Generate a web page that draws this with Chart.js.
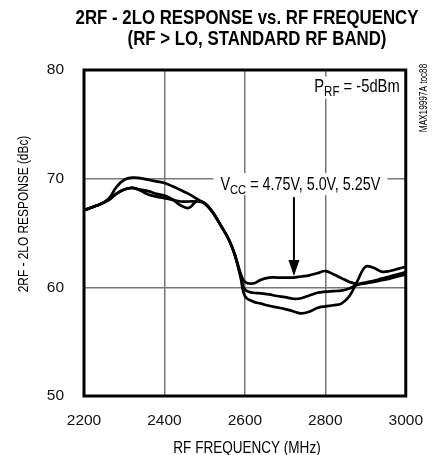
<!DOCTYPE html>
<html>
<head>
<meta charset="utf-8">
<script src="https://cdn.jsdelivr.net/npm/chart.js@4.4.1/dist/chart.umd.min.js"></script>
<style>
  html, body { margin: 0; padding: 0; background: #fff; }
  #wrap { width: 438px; height: 455px; position: relative; }
</style>
</head>
<body>
<div id="wrap"><canvas id="spurChart"></canvas></div>
<script>
// RF frequency sweep points (MHz)
const rfFreq = [2200, 2230, 2260, 2280, 2300, 2320, 2340, 2360, 2380, 2400,
  2420, 2440, 2460, 2480, 2500, 2520, 2540, 2560, 2575, 2590,
  2600, 2620, 2640, 2660, 2680, 2700, 2720, 2740, 2760, 2780,
  2800, 2820, 2840, 2860, 2880, 2900, 2920, 2940, 2960, 2980, 3000];

// 2RF - 2LO response (dBc), one curve per supply voltage
const resp475 = [67.1, 67.5, 68.1, 69.2, 69.9, 70.1, 70.05, 69.9, 69.75, 69.6,
  69.3, 68.95, 68.6, 68.15, 67.7, 66.9, 65.7, 64.4, 63.0, 61.2,
  60.5, 60.35, 60.7, 60.9, 60.9, 60.9, 60.9, 61.0, 61.1, 61.3,
  61.5, 61.2, 60.85, 60.5, 60.3, 60.35, 60.5, 60.65, 60.8, 61.0, 61.2];
const resp500 = [67.1, 67.5, 68.0, 68.6, 69.0, 69.15, 68.9, 68.55, 68.35, 68.2,
  68.05, 67.9, 67.9, 67.9, 67.75, 66.9, 65.7, 64.4, 63.0, 61.0,
  59.8, 59.5, 59.45, 59.35, 59.2, 59.1, 58.95, 59.0, 59.25, 59.5,
  59.6, 59.65, 59.7, 59.9, 60.25, 60.45, 60.6, 60.8, 61.0, 61.2, 61.4];
const resp525 = [67.1, 67.5, 68.0, 68.6, 69.0, 69.15, 69.0, 68.85, 68.6, 68.45,
  68.1, 67.55, 67.3, 67.9, 67.75, 66.9, 65.7, 64.4, 63.0, 60.8,
  59.2, 58.7, 58.5, 58.3, 58.15, 58.0, 57.8, 57.6, 57.75, 58.1,
  58.25, 58.35, 58.5, 59.2, 60.6, 61.9, 61.8, 61.45, 61.5, 61.7, 61.9];

const xTicks = [2200, 2400, 2600, 2800, 3000];
const yTicks = [50, 60, 70, 80];

const FONT = '"Liberation Sans", Arial, sans-serif';
const NARROW = 0.82; // horizontal squeeze for the condensed lettering

function toPoints(ys) {
  return rfFreq.map((f, i) => ({ x: f, y: ys[i] }));
}

// text with optional subscript runs: [[text, isSub], ...], squeezed horizontally
function drawRuns(ctx, runs, x, y, size, align, weight) {
  const subSize = size * 0.78;
  const w = weight || "";
  let total = 0;
  runs.forEach(([t, sub]) => {
    ctx.font = `${w} ${sub ? subSize : size}px ${FONT}`;
    total += ctx.measureText(t).width;
  });
  let cx = align === "right" ? -total : align === "center" ? -total / 2 : 0;
  ctx.save();
  ctx.translate(x, y);
  ctx.scale(NARROW, 1);
  ctx.textAlign = "left";
  ctx.textBaseline = "alphabetic";
  runs.forEach(([t, sub]) => {
    ctx.font = `${w} ${sub ? subSize : size}px ${FONT}`;
    ctx.fillText(t, cx, sub ? 4 : 0);
    cx += ctx.measureText(t).width;
  });
  ctx.restore();
  return total * NARROW;
}

const labelsPlugin = {
  id: "labelsPlugin",
  beforeDatasetsDraw(chart) {
    const { ctx, scales: { x, y } } = chart;
    ctx.save();

    // PRF note, top right
    const px = x.getPixelForValue(2985), py = y.getPixelForValue(78);
    ctx.fillStyle = "#fff";
    ctx.fillRect(px - 90, py - 15, 94, 22);
    ctx.fillStyle = "#000";
    drawRuns(ctx, [["P", false], ["RF", true], [" = -5dBm", false]], px, py, 18, "right");

    // supply voltage label with arrow
    const vx = x.getPixelForValue(2738), vy = y.getPixelForValue(68.95);
    ctx.fillStyle = "#fff";
    ctx.fillRect(vx - 87, vy - 17, 174, 22);
    ctx.fillStyle = "#000";
    drawRuns(ctx, [["V", false], ["CC", true], [" = 4.75V, 5.0V, 5.25V", false]], vx, vy, 17.5, "center");

    const ax = x.getPixelForValue(2722);
    const aTop = y.getPixelForValue(68.3), aTip = y.getPixelForValue(61.05);
    ctx.strokeStyle = "#000";
    ctx.lineWidth = 2;
    ctx.beginPath();
    ctx.moveTo(ax, aTop);
    ctx.lineTo(ax, aTip - 10);
    ctx.stroke();
    ctx.beginPath();
    ctx.moveTo(ax - 5.5, aTip - 16);
    ctx.lineTo(ax + 5.5, aTip - 16);
    ctx.lineTo(ax, aTip);
    ctx.closePath();
    ctx.fill();
    ctx.restore();
  },
  afterDraw(chart) {
    const { ctx, chartArea: a } = chart;
    ctx.save();
    // plot frame
    ctx.strokeStyle = "#000";
    ctx.lineWidth = 3;
    ctx.strokeRect(a.left, a.top, a.right - a.left, a.bottom - a.top);

    ctx.fillStyle = "#000";
    drawRuns(ctx, [["2RF - 2LO RESPONSE vs. RF FREQUENCY", false]], 247, 24, 20.5, "center", "bold");
    drawRuns(ctx, [["(RF > LO, STANDARD RF BAND)", false]], 257, 45, 20.5, "center", "bold");

    drawRuns(ctx, [["RF FREQUENCY (MHz)", false]], 247, 453, 16.5, "center");

    ctx.save();
    ctx.translate(28, 214);
    ctx.rotate(-Math.PI / 2);
    drawRuns(ctx, [["2RF - 2LO RESPONSE (dBc)", false]], 0, 0, 14.5, "center");
    ctx.restore();

    ctx.save();
    ctx.translate(427, 98);
    ctx.rotate(-Math.PI / 2);
    drawRuns(ctx, [["MAX19997A toc88", false]], 0, 0, 10, "center");
    ctx.restore();
    ctx.restore();
  },
};

document.addEventListener("DOMContentLoaded", () => {
  const line = (ys) => ({
    data: toPoints(ys),
    borderColor: "#000",
    borderWidth: 2.7,
    pointRadius: 0,
    tension: 0.4,
    fill: false,
  });

  const tickFont = { family: FONT, size: 15.5 };

  new Chart(document.getElementById("spurChart"), {
    type: "line",
    data: { datasets: [line(resp475), line(resp500), line(resp525)] },
    options: {
      responsive: true,
      maintainAspectRatio: false,
      animation: false,
      layout: { padding: { top: 70, right: 25, left: 0, bottom: 0 } },
      plugins: { legend: { display: false }, tooltip: { enabled: false } },
      scales: {
        x: {
          type: "linear",
          min: 2200,
          max: 3000,
          afterBuildTicks: (s) => { s.ticks = xTicks.map((v) => ({ value: v })); },
          afterFit: (s) => { s.height = 59; },
          grid: { color: "#777", lineWidth: 1.5, drawTicks: false },
          border: { display: false },
          ticks: { color: "#111", padding: 15, font: tickFont, callback: (v) => String(v) },
        },
        y: {
          min: 50,
          max: 80,
          afterBuildTicks: (s) => { s.ticks = yTicks.map((v) => ({ value: v })); },
          afterFit: (s) => { s.width = 84; },
          grid: { color: "#777", lineWidth: 1.5, drawTicks: false },
          border: { display: false },
          ticks: { color: "#111", padding: 20, font: tickFont, callback: (v) => String(v) },
        },
      },
    },
    plugins: [labelsPlugin],
  });
});
</script>
</body>
</html>
